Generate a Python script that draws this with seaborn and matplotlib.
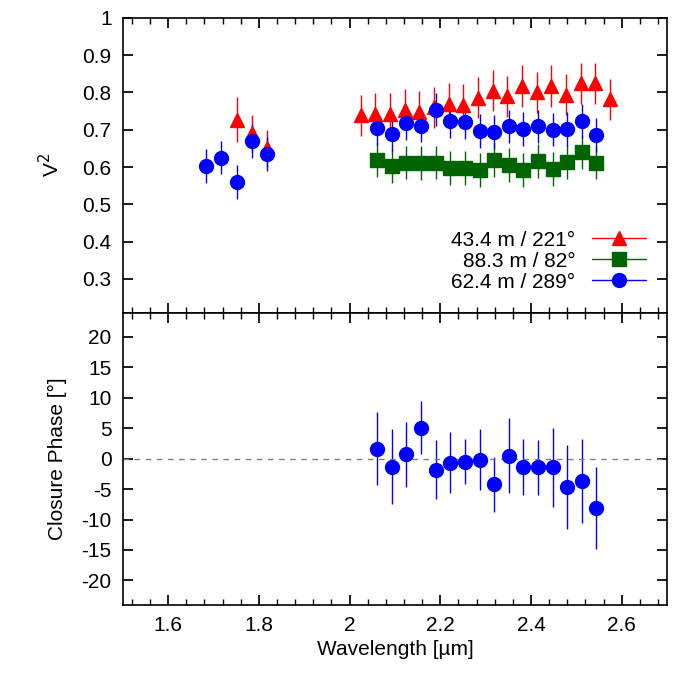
import numpy as np
import matplotlib
matplotlib.use('Agg')
import matplotlib.pyplot as plt
from matplotlib.lines import Line2D
from matplotlib.ticker import MultipleLocator
import seaborn as sns

sns.set_theme(style="ticks")
plt.rcParams['font.family'] = ['Liberation Sans', 'DejaVu Sans']
plt.rcParams['axes.unicode_minus'] = False
plt.rcParams['text.color'] = 'black'
plt.rcParams['axes.labelcolor'] = 'black'
plt.rcParams['xtick.color'] = 'black'
plt.rcParams['ytick.color'] = 'black'

# V^2, 43.4 m / 221 deg (red)
wl_red = [1.752, 1.785, 1.818,
          2.025, 2.057, 2.090, 2.122, 2.154, 2.187, 2.219, 2.251, 2.284, 2.316,
          2.348, 2.381, 2.413, 2.445, 2.478, 2.510, 2.542, 2.575]
v2_red = [0.727, 0.69, 0.65,
          0.739, 0.742, 0.742, 0.754, 0.748, 0.76, 0.770, 0.767, 0.786, 0.804,
          0.79, 0.817, 0.80, 0.817, 0.793, 0.824, 0.824, 0.781]
err_red = [0.06, 0.05, 0.05] + [0.055] * 18

# 88.3 m / 82 deg (green)
wl_green = [2.061, 2.093, 2.125, 2.158, 2.190, 2.222, 2.254, 2.287, 2.319,
            2.351, 2.383, 2.415, 2.448, 2.480, 2.512, 2.544]
v2_green = [0.619, 0.603, 0.612, 0.61, 0.612, 0.598, 0.598, 0.592, 0.619,
            0.605, 0.592, 0.616, 0.595, 0.614, 0.639, 0.612]
err_green = [0.045] * 16

# 62.4 m / 289 deg (blue)
wl_blue = [1.683, 1.716, 1.752, 1.785, 1.818] + wl_green
v2_blue = [0.603, 0.625, 0.56, 0.67, 0.635,
           0.705, 0.689, 0.718, 0.711, 0.754, 0.722, 0.72, 0.696, 0.693,
           0.709, 0.702, 0.709, 0.70, 0.702, 0.724, 0.686]
err_blue = [0.045] * 21

# closure phase
wl_cp = wl_green
cp = [1.6, -1.3, 0.7, 5.1, -1.8, -0.7, -0.5, -0.2, -4.2, 0.5, -1.4, -1.4,
      -1.4, -4.7, -3.7, -8.1]
cp_err = [6.0, 6.2, 5.4, 4.3, 4.8, 5.0, 3.7, 5.0, 4.5, 6.2, 4.6, 4.5, 6.5,
          6.9, 6.9, 6.7]

xticks = [1.6, 1.8, 2.0, 2.2, 2.4, 2.6]
xlabels = ['1.6', '1.8', '2', '2.2', '2.4', '2.6']

fig = plt.figure(figsize=(6.78, 6.81), dpi=100)
ax1 = fig.add_axes([0.181, 0.541, 0.803, 0.433])
ax2 = fig.add_axes([0.181, 0.112, 0.803, 0.429])

series = [(wl_red, v2_red, err_red, '^', '#ff0000', '43.4 m / 221°'),
          (wl_green, v2_green, err_green, 's', '#006400', '88.3 m / 82°'),
          (wl_blue, v2_blue, err_blue, 'o', '#0000ff', '62.4 m / 289°')]
handles = []
for x, y, e, m, c, lab in series:
    ax1.errorbar(x, y, yerr=e, fmt=m, color=c, ms=10, elinewidth=1, capsize=0)
    handles.append(Line2D([], [], color=c, marker=m, ms=10, lw=1, label=lab))
ax1.set_ylim(0.21, 1.0)
ax1.set_yticks(np.arange(0.3, 1.01, 0.1))
ax1.set_yticklabels(['0.3', '0.4', '0.5', '0.6', '0.7', '0.8', '0.9', '1'])
ax1.set_ylabel('V$^2$', fontsize=15, labelpad=14)
ax1.legend(handles=handles, loc='lower right', markerfirst=False, frameon=False,
           fontsize=15, handlelength=2.6, labelspacing=0.1, borderaxespad=0.6,
           handletextpad=0.8)

ax2.errorbar(wl_cp, cp, yerr=cp_err, fmt='o', color='#0000ff', ms=10,
             elinewidth=1, capsize=0)
ax2.axhline(0, color='gray', ls=(0, (4, 4)), lw=1)
ax2.set_ylim(-24, 24)
ax2.set_yticks(range(-20, 21, 5))
ax2.set_xlabel('Wavelength [µm]', fontsize=15)
ax2.set_ylabel('Closure Phase [°]', fontsize=15, labelpad=10)

for ax in (ax1, ax2):
    ax.set_xlim(1.5, 2.7)
    ax.set_xticks(xticks)
    ax.set_xticklabels(xlabels)
    ax.xaxis.set_minor_locator(MultipleLocator(0.04))
    ax.tick_params(which='both', direction='in', top=True, right=True, labelsize=15)
    ax.tick_params(which='major', length=7, pad=8)
    ax.tick_params(which='minor', length=4)
    for s in ax.spines.values():
        s.set_linewidth(1.2)
        s.set_color('black')
ax1.tick_params(labelbottom=False)

fig.savefig('out.png', dpi=100)
